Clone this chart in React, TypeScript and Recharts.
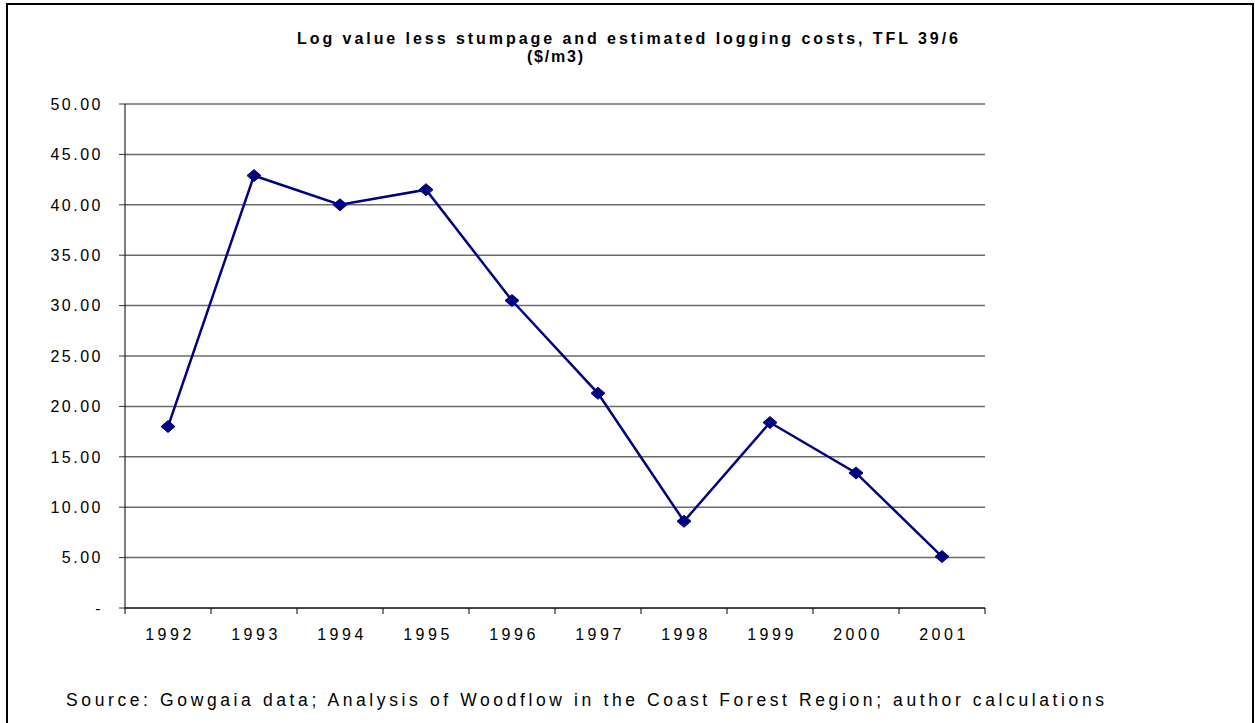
import React from 'react';
import { LineChart, Line, XAxis, YAxis, CartesianGrid } from 'recharts';

const years = ['1992', '1993', '1994', '1995', '1996', '1997', '1998', '1999', '2000', '2001'];
const values = [18.0, 42.9, 40.0, 41.5, 30.5, 21.3, 8.6, 18.4, 13.4, 5.1];
const yTicks = [0, 5, 10, 15, 20, 25, 30, 35, 40, 45, 50];
const titleLine1 = 'Log value less stumpage and estimated logging costs, TFL 39/6';
const titleLine2 = '($/m3)';
const sourceText = 'Source: Gowgaia data; Analysis of Woodflow in the Coast Forest Region; author calculations';

const data = years.map((year, i) => ({ year, value: values[i] }));

const FONT = '"Liberation Sans", Arial, Helvetica, sans-serif';
const BAND_HALF = 43;
const NAVY = '#000080';

const Diamond = (props: any) => {
  const { cx, cy, index } = props;
  if (cx == null || cy == null) return null;
  return (
    <polygon
      key={`d-${index}`}
      points={`${cx - 7},${cy} ${cx},${cy - 6} ${cx + 7},${cy} ${cx},${cy + 6}`}
      fill={NAVY}
      stroke={NAVY}
      strokeWidth={1}
    />
  );
};

const XTick = (props: any) => {
  const { x, y, payload, index } = props;
  const last = index === years.length - 1;
  return (
    <g>
      <line x1={x - BAND_HALF} y1={y} x2={x - BAND_HALF} y2={y + 6} stroke="#000" strokeWidth={1} />
      {last && <line x1={x + BAND_HALF} y1={y} x2={x + BAND_HALF} y2={y + 6} stroke="#000" strokeWidth={1} />}
      <text
        x={x + 2}
        y={y + 32}
        textAnchor="middle"
        fontFamily={FONT}
        fontSize={16}
        letterSpacing={3.5}
        fill="#000"
      >
        {payload.value}
      </text>
    </g>
  );
};

const YTick = (props: any) => {
  const { x, y, payload } = props;
  const v = payload.value as number;
  const label = v === 0 ? '-' : v.toFixed(2);
  return (
    <text
      x={x}
      y={y}
      dy="0.36em"
      textAnchor="end"
      fontFamily={FONT}
      fontSize={16}
      letterSpacing={2.5}
      fill="#000"
    >
      {label}
    </text>
  );
};

export default function App() {
  return (
    <div
      style={{
        position: 'absolute',
        left: 0,
        top: 0,
        width: 1255,
        height: 723,
        overflow: 'hidden',
        background: '#fff',
      }}
    >
      <div
        style={{
          position: 'absolute',
          left: 6,
          top: 3,
          width: 1248,
          height: 760,
          border: '2px solid #000',
          boxSizing: 'border-box',
        }}
      />
      <div style={{ position: 'absolute', left: 0, top: 0 }}>
        <LineChart
          width={1255}
          height={723}
          data={data}
          margin={{ top: 104, right: 270, bottom: 85, left: 65 }}
        >
          <CartesianGrid vertical={false} stroke="#6a6a6a" strokeWidth={1.5} />
          <XAxis
            dataKey="year"
            interval={0}
            padding={{ left: BAND_HALF, right: BAND_HALF }}
            axisLine={{ stroke: '#000', strokeWidth: 1 }}
            tickLine={false}
            tickSize={0}
            tickMargin={0}
            height={30}
            tick={<XTick />}
          />
          <YAxis
            domain={[0, 50]}
            ticks={yTicks}
            interval={0}
            width={60}
            axisLine={{ stroke: '#000', strokeWidth: 1 }}
            tickLine={{ stroke: '#333', strokeWidth: 1 }}
            tickSize={6}
            tickMargin={16}
            tick={<YTick />}
          />
          <Line
            type="linear"
            dataKey="value"
            stroke={NAVY}
            strokeWidth={2.5}
            dot={<Diamond />}
            activeDot={false}
            isAnimationActive={false}
          />
        </LineChart>
      </div>
      <svg
        width={1255}
        height={723}
        style={{ position: 'absolute', left: 0, top: 0, pointerEvents: 'none' }}
      >
        <text
          x={297}
          y={44}
          fontFamily={FONT}
          fontWeight="bold"
          fontSize={16}
          textLength={661}
          lengthAdjust="spacing"
          fill="#000"
        >
          {titleLine1}
        </text>
        <text
          x={527}
          y={62}
          fontFamily={FONT}
          fontWeight="bold"
          fontSize={16}
          textLength={56}
          lengthAdjust="spacing"
          fill="#000"
        >
          {titleLine2}
        </text>
        <text
          x={66}
          y={706}
          fontFamily={FONT}
          fontSize={17.5}
          textLength={1038}
          lengthAdjust="spacing"
          fill="#000"
        >
          {sourceText}
        </text>
      </svg>
    </div>
  );
}
